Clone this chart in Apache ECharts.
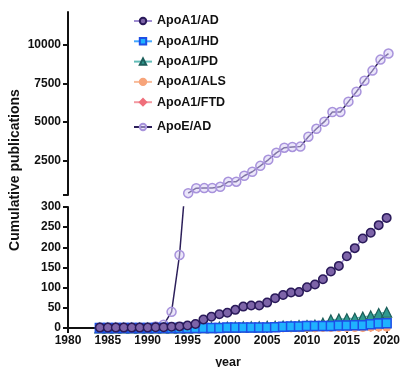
<!DOCTYPE html>
<html>
<head>
<meta charset="utf-8">
<script src="https://cdn.jsdelivr.net/npm/echarts@6/dist/echarts.min.js"></script>
<style>html,body{margin:0;padding:0;background:#fff;}#c{width:403px;height:367px;}</style>
</head>
<body>
<div id="c"></div>
<script>
var years = [1984,1985,1986,1987,1988,1989,1990,1991,1992,1993,1994,1995,1996,1997,1998,1999,2000,2001,2002,2003,2004,2005,2006,2007,2008,2009,2010,2011,2012,2013,2014,2015,2016,2017,2018,2019,2020];
var apoA1AD = [1,1,1,1,1,1,1,2,2,3,4,6,10,21,28,34,38,45,53,56,56,63,74,82,88,89,101,108,121,140,154,178,198,222,236,255,273];
var apoA1HD = [0,0,0,0,0,0,0,0,0,0,0,0,0,0,0,0,1,1,1,1,1,1,2,3,4,4,5,5,5,5,6,6,7,7,9,11,12];
var apoA1PD = [0,0,0,0,0,0,0,0,0,0,0,0,1,1,1,2,2,2,3,3,3,4,4,5,5,6,6,7,12,20,22,23,24,27,30,36,39];
var apoA1ALS = [0,0,0,0,0,0,0,0,0,0,0,0,0,0,0,0,0,0,0,0,0,0,0,0,0,0,0,0,1,1,1,1,1,1,2,2,2];
var apoA1FTD = [0,0,0,0,0,0,0,0,0,0,0,0,0,0,0,0,0,0,0,0,0,0,0,0,0,0,0,0,0,0,1,1,1,1,1,1,2];
var apoEAD = [null,null,null,null,null,null,null,4,8,40,181,420,740,745,750,830,1150,1160,1540,1800,2180,2570,3020,3350,3400,3420,4060,4570,5030,5650,5650,6320,6960,7670,8320,9030,9420];
var xTicks = [1980,1985,1990,1995,2000,2005,2010,2015,2020];
var upperLabels = [2500,5000,7500,10000];
var upperTicks = [300,2500,5000,7500,10000];

function pairs(vals){ return years.map(function(y,i){ return [y, vals[i]]; }); }
function upperPairs(vals){ return years.map(function(y,i){ return [y, (vals[i] !== null && vals[i] >= 300) ? vals[i] : null]; }); }

var FONT = "'Liberation Sans', Arial, sans-serif";
var axisLine = {show:true, lineStyle:{color:'#111', width:2}};
var axisTick = {show:true, length:5, lineStyle:{color:'#111', width:2}};
function lab(extra){
  return Object.assign({color:'#111', fontFamily:FONT, fontWeight:'bold', fontSize:12, margin:7,
    formatter:function(v){ return String(v); }}, extra || {});
}
var legendText = {fontFamily:FONT, fontWeight:'bold', fontSize:12.5, color:'#111', lineHeight:14};

var chart = echarts.init(document.getElementById('c'), null, {renderer:'canvas'});
chart.setOption({
  animation:false,
  backgroundColor:'#fff',
  grid:[
    {left:68, width:320.5, top:207, height:121},
    {left:68, width:320.5, top:12, height:183}
  ],
  xAxis:[
    {type:'value', gridIndex:0, min:1980, max:2020, interval:5,
     axisLine:axisLine, axisTick:axisTick, splitLine:{show:false},
     axisLabel:lab({customValues:xTicks})},
    {type:'value', gridIndex:1, min:1980, max:2020, interval:5, show:false, splitLine:{show:false}}
  ],
  yAxis:[
    {type:'value', gridIndex:0, min:0, max:300, interval:50,
     axisLine:axisLine, axisTick:axisTick, splitLine:{show:false},
     axisLabel:lab()},
    {type:'value', gridIndex:1, min:300, max:12100,
     axisLine:axisLine, axisTick:Object.assign({customValues:upperTicks}, axisTick), splitLine:{show:false},
     axisLabel:lab({customValues:upperLabels})}
  ],
  legend:[
    {orient:'vertical', left:133, top:14, padding:0, itemWidth:18, itemHeight:8, itemGap:6.3,
     textStyle:legendText,
     data:['ApoA1/AD','ApoA1/HD','ApoA1/PD','ApoA1/ALS','ApoA1/FTD']},
    {orient:'vertical', left:133, top:120, padding:0, itemWidth:18, itemHeight:8,
     textStyle:legendText,
     data:['ApoE/AD']}
  ],
  graphic:[
    {type:'text', x:15, y:170, rotation:Math.PI/2,
     style:{text:'Cumulative publications', font:"bold 14px 'Liberation Sans', Arial", fill:'#111', align:'center', verticalAlign:'middle'}},
    {type:'text', x:228, y:363,
     style:{text:'year', font:"bold 12.5px 'Liberation Sans', Arial", fill:'#111', align:'center', verticalAlign:'middle'}}
  ],
  series:[
    {name:'ApoE/AD', type:'line', xAxisIndex:0, yAxisIndex:0, data:pairs(apoEAD), z:1,
     symbol:'circle', symbolSize:9, clip:true,
     lineStyle:{color:'#2c1f5a', width:1.5},
     itemStyle:{color:'rgba(215,205,245,0.5)', borderColor:'#a893dc', borderWidth:1.5}},
    {name:'ApoE/AD', type:'line', xAxisIndex:1, yAxisIndex:1, data:upperPairs(apoEAD), z:1,
     symbol:'circle', symbolSize:9, clip:true,
     lineStyle:{color:'#2c1f5a', width:1.5},
     itemStyle:{color:'rgba(215,205,245,0.5)', borderColor:'#a893dc', borderWidth:1.5}},
    {name:'ApoA1/FTD', type:'line', xAxisIndex:0, yAxisIndex:0, data:pairs(apoA1FTD), z:2,
     symbol:'diamond', symbolSize:8,
     lineStyle:{color:'#f39aa2', width:1.5},
     itemStyle:{color:'#ef6f7b', borderColor:'#ef6f7b', borderWidth:1}},
    {name:'ApoA1/ALS', type:'line', xAxisIndex:0, yAxisIndex:0, data:pairs(apoA1ALS), z:3,
     symbol:'circle', symbolSize:8,
     lineStyle:{color:'#f8bb9a', width:1.5},
     itemStyle:{color:'#f7a47a', borderColor:'#f7a47a', borderWidth:1}},
    {name:'ApoA1/PD', type:'line', xAxisIndex:0, yAxisIndex:0, data:pairs(apoA1PD), z:4,
     symbol:'triangle', symbolSize:10,
     lineStyle:{color:'#62bdb8', width:1.5},
     itemStyle:{color:'#2f9a8f', borderColor:'#1c5e5a', borderWidth:1.2}},
    {name:'ApoA1/HD', type:'line', xAxisIndex:0, yAxisIndex:0, data:pairs(apoA1HD), z:5,
     symbol:'rect', symbolSize:9,
     lineStyle:{color:'#45a8ff', width:1.5},
     itemStyle:{color:'#1fb2ff', borderColor:'#1d4fe6', borderWidth:1.5}},
    {name:'ApoA1/AD', type:'line', xAxisIndex:0, yAxisIndex:0, data:pairs(apoA1AD), z:6,
     symbol:'circle', symbolSize:8.5,
     lineStyle:{color:'#a08ed2', width:1.5},
     itemStyle:{color:'#7d64a8', borderColor:'#2a1a5a', borderWidth:1.5}}
  ]
});
</script>
</body>
</html>
